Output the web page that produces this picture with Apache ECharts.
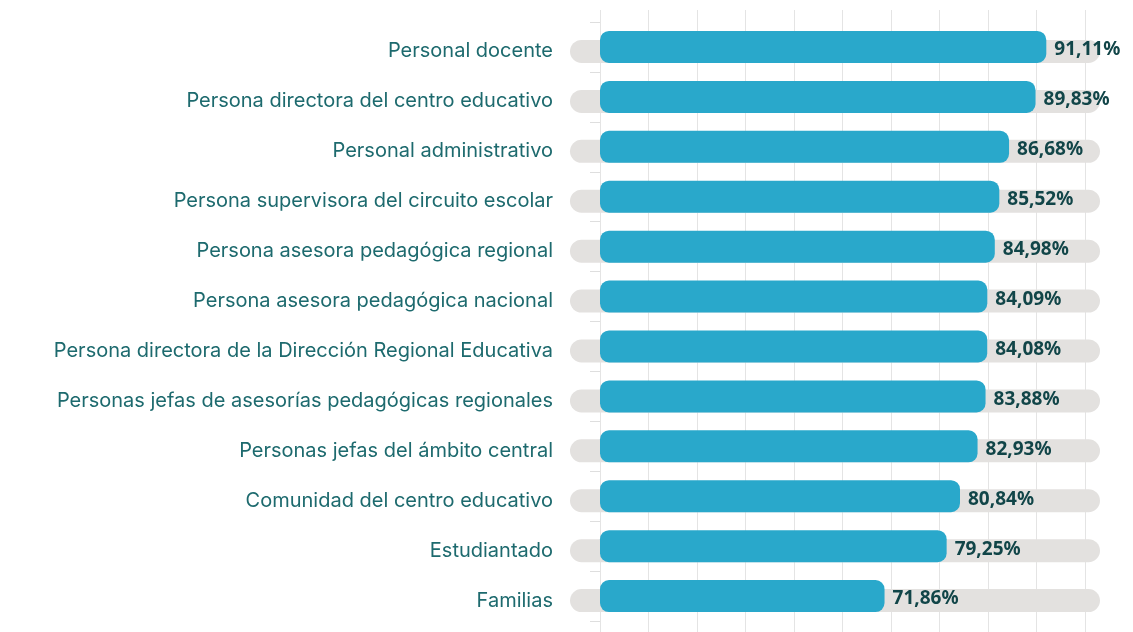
<!DOCTYPE html>
<html>
<head>
<meta charset="utf-8">
<script src="https://cdn.jsdelivr.net/npm/echarts@6/dist/echarts.min.js"></script>
<style>
  html, body { margin: 0; padding: 0; background: #fff; }
  #chart { width: 1133px; height: 632px; }
</style>
</head>
<body>
<div id="chart"></div>
<script>
// categories, top to bottom
const categories = [
  'Personal docente',
  'Persona directora del centro educativo',
  'Personal administrativo',
  'Persona supervisora del circuito escolar',
  'Persona asesora pedagógica regional',
  'Persona asesora pedagógica nacional',
  'Persona directora de la Dirección Regional Educativa',
  'Personas jefas de asesorías pedagógicas regionales',
  'Personas jefas del ámbito central',
  'Comunidad del centro educativo',
  'Estudiantado',
  'Familias'
]
const values = [91.11, 89.83, 86.68, 85.52, 84.98, 84.09, 84.08, 83.88, 82.93, 80.84, 79.25, 71.86]

const fmt = v => v.toFixed(2).replace('.', ',') + '%'

let chart = echarts.init(document.getElementById('chart'))

const opt = {
  animation: false,
  grid: [
    // 0: vertical guide lines
    { left: 600, right: 48, top: 10, bottom: 0 },
    // 1: grey track
    { left: 570, right: 33, top: 26.5, bottom: 6.5 },
    // 2: blue bars
    { left: 600, right: 33, top: 22, bottom: 11 }
  ],
  xAxis: [
    {
      gridIndex: 0, type: 'value', min: 0, max: 10, interval: 1,
      axisLine: { show: false }, axisTick: { show: false }, axisLabel: { show: false },
      splitLine: { show: true, lineStyle: { color: '#e4e4e4', width: 1 } }
    },
    {
      gridIndex: 1, type: 'value', min: 0, max: 1,
      show: false
    },
    {
      gridIndex: 2, type: 'value', min: 38, max: 97.5,
      show: false
    }
  ],
  yAxis: [
    {
      gridIndex: 0, type: 'value',
      axisLine: { show: false }, axisTick: { show: false }, axisLabel: { show: false },
      splitLine: { show: false }
    },
    {
      gridIndex: 1, type: 'category', inverse: true, data: categories,
      axisLine: { show: false }, axisTick: { show: false },
      axisLabel: {
        margin: 17,
        color: '#1d6a6e',
        fontFamily: 'Inter',
        fontSize: 20,
        padding: [0, 0, 4, 0]
      }
    },
    {
      gridIndex: 2, type: 'category', inverse: true, data: categories,
      axisLine: { show: false },
      axisTick: { show: true, length: 10, lineStyle: { color: '#dedede' } },
      axisLabel: { show: false }
    }
  ],
  series: [
    {
      // background track
      type: 'bar',
      xAxisIndex: 1, yAxisIndex: 1,
      data: categories.map(() => 1),
      barWidth: 23,
      silent: true,
      itemStyle: { color: '#e3e1df', borderRadius: 11.5 }
    },
    {
      type: 'bar',
      xAxisIndex: 2, yAxisIndex: 2,
      data: values,
      barWidth: 32,
      itemStyle: { color: '#29a8cb', borderRadius: 9 },
      label: {
        show: true,
        position: 'right',
        distance: 8,
        offset: [0, 3],
        formatter: p => fmt(p.value),
        color: '#114548',
        fontFamily: 'Noto Sans',
        fontWeight: 'bold',
        fontSize: 19
      }
    }
  ]
}
chart.setOption(opt)

window.addEventListener('resize', function () {
  chart.resize()
})
</script>
</body>
</html>
